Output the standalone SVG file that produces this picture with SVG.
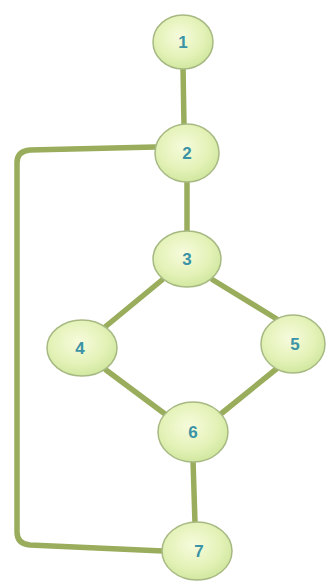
<svg xmlns="http://www.w3.org/2000/svg" width="326" height="584" viewBox="0 0 326 584">
<defs>
<radialGradient id="g" cx="45%" cy="40%" r="65%">
<stop offset="0" stop-color="#f6fbdc"/>
<stop offset="0.6" stop-color="#e4f2b8"/>
<stop offset="1" stop-color="#cde59a"/>
</radialGradient>
<style>
.e{fill:none;stroke:#99ad5c;stroke-width:5.5;stroke-linecap:round;stroke-linejoin:round}
.n{fill:url(#g);stroke:#a7b983;stroke-width:1.5}
.t{font-family:"Liberation Sans",Arial,sans-serif;font-weight:bold;font-size:17px;fill:#3a93a6;text-anchor:middle}
</style>
</defs>
<rect width="326" height="584" fill="#ffffff"/>
<g id="connectors">
<line class="e" x1="183" y1="66" x2="184" y2="126"/>
<line class="e" x1="187" y1="180" x2="187" y2="233"/>
<line class="e" x1="162" y1="280" x2="105" y2="327"/>
<line class="e" x1="213" y1="280" x2="280" y2="321"/>
<line class="e" x1="106" y1="370" x2="165" y2="414"/>
<line class="e" x1="280" y1="366" x2="222" y2="413"/>
<line class="e" x1="193" y1="460" x2="195" y2="523"/>
<path class="e" d="M163 551 L30 545 Q17 544 17 532 L17 163 Q17 151 30 150 L155 147"/>
</g>
<g id="n1"><ellipse class="n" cx="183" cy="42" rx="30" ry="27"/><text class="t" x="183" y="48">1</text></g>
<g id="n2"><ellipse class="n" cx="187" cy="153" rx="32" ry="29"/><text class="t" x="187" y="159">2</text></g>
<g id="n3"><ellipse class="n" cx="187" cy="259" rx="34" ry="28"/><text class="t" x="187" y="265">3</text></g>
<g id="n4"><ellipse class="n" cx="82" cy="348" rx="35" ry="28"/><text class="t" x="80" y="354">4</text></g>
<g id="n5"><ellipse class="n" cx="293" cy="344" rx="32" ry="29"/><text class="t" x="295" y="350">5</text></g>
<g id="n6"><ellipse class="n" cx="193" cy="432" rx="35" ry="30"/><text class="t" x="193" y="438">6</text></g>
<g id="n7"><ellipse class="n" cx="197" cy="551" rx="35" ry="29"/><text class="t" x="199" y="557">7</text></g>
</svg>
